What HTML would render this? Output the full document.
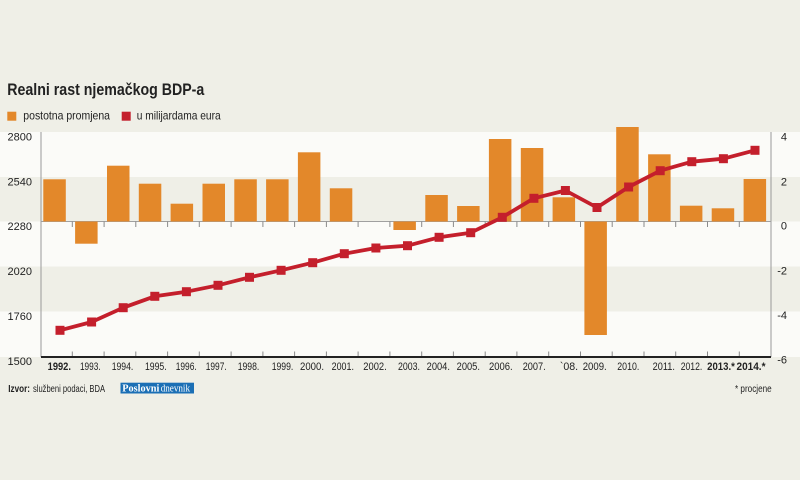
<!DOCTYPE html>
<html><head><meta charset="utf-8"><style>
html,body{margin:0;padding:0;background:#efefe7;}
svg{display:block;}
text{font-family:"Liberation Sans",sans-serif;fill:#222;}
</style></head><body>
<svg width="800" height="480" viewBox="0 0 800 480" xmlns="http://www.w3.org/2000/svg">
<rect x="0" y="0" width="800" height="480" fill="#efefe7"/>
<!-- white stripes -->
<rect x="0" y="132" width="800" height="45" fill="#fbfbf8"/>
<rect x="0" y="221.5" width="800" height="45" fill="#fbfbf8"/>
<rect x="0" y="311.5" width="800" height="45.5" fill="#fbfbf8"/>

<!-- title -->
<text x="7.3" y="95" font-size="17" font-weight="bold" textLength="197" lengthAdjust="spacingAndGlyphs">Realni rast njemačkog BDP-a</text>
<!-- legend -->
<rect x="7.3" y="111.7" width="9" height="9" fill="#e3882a"/>
<text x="23.3" y="119.5" font-size="12" textLength="86.7" lengthAdjust="spacingAndGlyphs" fill="#333">postotna promjena</text>
<rect x="121.7" y="111.7" width="9" height="9" fill="#c41f2c"/>
<text x="136.7" y="119.5" font-size="12" textLength="84" lengthAdjust="spacingAndGlyphs" fill="#333">u milijardama eura</text>

<!-- axes -->
<line x1="41" y1="132" x2="41" y2="357" stroke="#9a9a9a" stroke-width="1"/>
<line x1="771" y1="132" x2="771" y2="357" stroke="#9a9a9a" stroke-width="1"/>
<line x1="41" y1="221.5" x2="771" y2="221.5" stroke="#a0a0a0" stroke-width="1"/>

<!-- ticks -->
<g stroke="#8a8a8a" stroke-width="1">
<path d="M72.3 221.5v5.5M104.1 221.5v5.5M135.8 221.5v5.5M167.6 221.5v5.5M199.3 221.5v5.5M231.1 221.5v5.5M262.9 221.5v5.5M294.6 221.5v5.5M326.4 221.5v5.5M358.1 221.5v5.5M389.9 221.5v5.5M421.7 221.5v5.5M453.4 221.5v5.5M485.2 221.5v5.5M516.9 221.5v5.5M548.7 221.5v5.5M580.5 221.5v5.5M612.2 221.5v5.5M644 221.5v5.5M675.7 221.5v5.5M707.5 221.5v5.5M739.3 221.5v5.5"/>
<path d="M72.3 357v-5.5M104.1 357v-5.5M135.8 357v-5.5M167.6 357v-5.5M199.3 357v-5.5M231.1 357v-5.5M262.9 357v-5.5M294.6 357v-5.5M326.4 357v-5.5M358.1 357v-5.5M389.9 357v-5.5M421.7 357v-5.5M453.4 357v-5.5M485.2 357v-5.5M516.9 357v-5.5M548.7 357v-5.5M580.5 357v-5.5M612.2 357v-5.5M644 357v-5.5M675.7 357v-5.5M707.5 357v-5.5M739.3 357v-5.5"/>
</g>

<!-- bars -->
<g fill="#e3882a">
<rect x="43.3" y="179.3" width="22.5" height="42.2"/>
<rect x="75.1" y="221.5" width="22.5" height="22.2"/>
<rect x="107.0" y="165.7" width="22.5" height="55.8"/>
<rect x="138.8" y="183.7" width="22.5" height="37.8"/>
<rect x="170.6" y="203.7" width="22.5" height="17.8"/>
<rect x="202.5" y="183.7" width="22.5" height="37.8"/>
<rect x="234.3" y="179.3" width="22.5" height="42.2"/>
<rect x="266.1" y="179.3" width="22.5" height="42.2"/>
<rect x="297.9" y="152.3" width="22.5" height="69.2"/>
<rect x="329.8" y="188.3" width="22.5" height="33.2"/>
<rect x="393.4" y="221.5" width="22.5" height="8.5"/>
<rect x="425.3" y="195" width="22.5" height="26.5"/>
<rect x="457.1" y="206" width="22.5" height="15.5"/>
<rect x="488.9" y="139" width="22.5" height="82.5"/>
<rect x="520.8" y="148" width="22.5" height="73.5"/>
<rect x="552.6" y="197.3" width="22.5" height="24.2"/>
<rect x="584.4" y="221.5" width="22.5" height="113.5"/>
<rect x="616.2" y="127" width="22.5" height="94.5"/>
<rect x="648.1" y="154.3" width="22.5" height="67.2"/>
<rect x="679.9" y="205.7" width="22.5" height="15.8"/>
<rect x="711.7" y="208.3" width="22.5" height="13.2"/>
<rect x="743.6" y="179" width="22.5" height="42.5"/>
</g>

<!-- bottom axis -->
<line x1="41" y1="357" x2="771" y2="357" stroke="#222" stroke-width="2"/>

<!-- line -->
<polyline fill="none" stroke="#c41f2c" stroke-width="3.8" stroke-linejoin="round" points="60,330.3 91.6,322 123.2,307.7 154.8,296.3 186.4,291.7 218,285.3 249.5,277.3 281.1,270.3 312.7,262.7 344.3,253.7 375.9,248 407.5,245.7 439.1,237.3 470.7,232.7 502.3,217.3 533.9,198.3 565.4,190.5 597,207.5 628.6,187 660.2,170.7 691.8,161.7 723.4,158.7 755,150.3"/>
<g fill="#c41f2c">
<rect x="55.5" y="325.8" width="9" height="9"/>
<rect x="87.1" y="317.5" width="9" height="9"/>
<rect x="118.7" y="303.2" width="9" height="9"/>
<rect x="150.3" y="291.8" width="9" height="9"/>
<rect x="181.9" y="287.2" width="9" height="9"/>
<rect x="213.5" y="280.8" width="9" height="9"/>
<rect x="245" y="272.8" width="9" height="9"/>
<rect x="276.6" y="265.8" width="9" height="9"/>
<rect x="308.2" y="258.2" width="9" height="9"/>
<rect x="339.8" y="249.2" width="9" height="9"/>
<rect x="371.4" y="243.5" width="9" height="9"/>
<rect x="403" y="241.2" width="9" height="9"/>
<rect x="434.6" y="232.8" width="9" height="9"/>
<rect x="466.2" y="228.2" width="9" height="9"/>
<rect x="497.8" y="212.8" width="9" height="9"/>
<rect x="529.4" y="193.8" width="9" height="9"/>
<rect x="560.9" y="186" width="9" height="9"/>
<rect x="592.5" y="203" width="9" height="9"/>
<rect x="624.1" y="182.5" width="9" height="9"/>
<rect x="655.7" y="166.2" width="9" height="9"/>
<rect x="687.3" y="157.2" width="9" height="9"/>
<rect x="718.9" y="154.2" width="9" height="9"/>
<rect x="750.5" y="145.8" width="9" height="9"/>
</g>

<!-- left axis labels -->
<g font-size="11">
<text x="7.5" y="140.5">2800</text>
<text x="7.5" y="185.3">2540</text>
<text x="7.5" y="230">2280</text>
<text x="7.5" y="275">2020</text>
<text x="7.5" y="320">1760</text>
<text x="7.5" y="365">1500</text>
</g>
<!-- right axis labels -->
<g font-size="11" text-anchor="end">
<text x="787" y="140.7">4</text>
<text x="787" y="185.5">2</text>
<text x="787" y="229.5">0</text>
<text x="787" y="274.5">-2</text>
<text x="787" y="318.8">-4</text>
<text x="787" y="363.5">-6</text>
</g>

<!-- x labels -->
<g font-size="11" text-anchor="middle">
<text x="59.3" y="370" font-weight="bold" textLength="23.3" lengthAdjust="spacingAndGlyphs">1992.</text>
<text x="90.3" y="370" textLength="20.7" lengthAdjust="spacingAndGlyphs">1993.</text>
<text x="122.5" y="370" textLength="21.6" lengthAdjust="spacingAndGlyphs">1994.</text>
<text x="155.8" y="370" textLength="21.7" lengthAdjust="spacingAndGlyphs">1995.</text>
<text x="186.2" y="370" textLength="21" lengthAdjust="spacingAndGlyphs">1996.</text>
<text x="216.2" y="370" textLength="21" lengthAdjust="spacingAndGlyphs">1997.</text>
<text x="248.5" y="370" textLength="21.6" lengthAdjust="spacingAndGlyphs">1998.</text>
<text x="282.5" y="370" textLength="21.6" lengthAdjust="spacingAndGlyphs">1999.</text>
<text x="312" y="370" textLength="24" lengthAdjust="spacingAndGlyphs">2000.</text>
<text x="342.8" y="370" textLength="22.3" lengthAdjust="spacingAndGlyphs">2001.</text>
<text x="375" y="370" textLength="23.4" lengthAdjust="spacingAndGlyphs">2002.</text>
<text x="409" y="370" textLength="22" lengthAdjust="spacingAndGlyphs">2003.</text>
<text x="438.3" y="370" textLength="23.3" lengthAdjust="spacingAndGlyphs">2004.</text>
<text x="468.3" y="370" textLength="23.3" lengthAdjust="spacingAndGlyphs">2005.</text>
<text x="500.8" y="370" textLength="23.7" lengthAdjust="spacingAndGlyphs">2006.</text>
<text x="534.2" y="370" textLength="23" lengthAdjust="spacingAndGlyphs">2007.</text>
<text x="569" y="370" textLength="18.3" lengthAdjust="spacingAndGlyphs">`08.</text>
<text x="594.7" y="370" textLength="24" lengthAdjust="spacingAndGlyphs">2009.</text>
<text x="628.3" y="370" textLength="22" lengthAdjust="spacingAndGlyphs">2010.</text>
<text x="663.8" y="370" textLength="22.3" lengthAdjust="spacingAndGlyphs">2011.</text>
<text x="691.5" y="370" textLength="21.6" lengthAdjust="spacingAndGlyphs">2012.</text>
<text x="721" y="370" font-weight="bold" textLength="27.7" lengthAdjust="spacingAndGlyphs">2013.*</text>
<text x="751" y="370" font-weight="bold" textLength="29" lengthAdjust="spacingAndGlyphs">2014.*</text>
</g>

<!-- footer -->
<text x="8.3" y="392" font-size="10.5" font-weight="bold" textLength="21.7" lengthAdjust="spacingAndGlyphs">Izvor:</text>
<text x="33" y="392" font-size="10.5" textLength="72" lengthAdjust="spacingAndGlyphs" fill="#333">službeni podaci, BDA</text>
<rect x="120.5" y="382.7" width="73.5" height="10.8" fill="#1b6fb5"/>
<text x="122.3" y="391.3" font-size="10" font-family="Liberation Serif, serif" font-weight="bold" fill="#fff" style="font-family:'Liberation Serif',serif;fill:#fff" textLength="37" lengthAdjust="spacingAndGlyphs">Poslovni</text>
<text x="160.7" y="391.3" font-size="10" style="font-family:'Liberation Serif',serif;fill:#fff" textLength="29.3" lengthAdjust="spacingAndGlyphs">dnevnik</text>
<text x="735" y="392" font-size="10" textLength="36.7" lengthAdjust="spacingAndGlyphs" fill="#333">* procjene</text>
</svg>
</body></html>
